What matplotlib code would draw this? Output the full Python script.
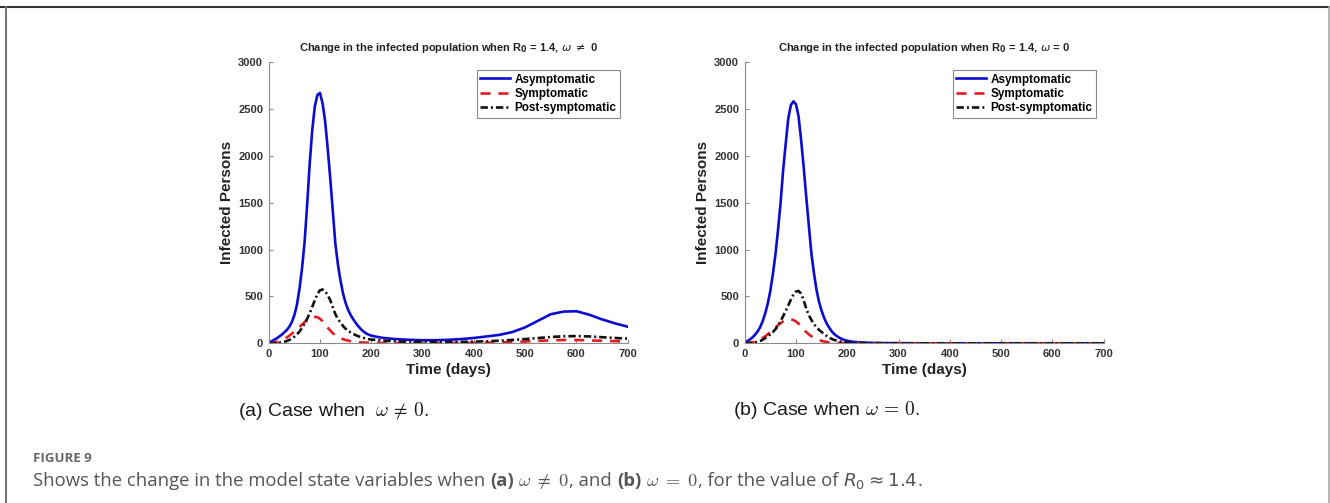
import numpy as np
import matplotlib.pyplot as plt
from matplotlib.lines import Line2D

plt.rcParams['font.family'] = ['Liberation Sans', 'DejaVu Sans']

# ---- data ----
# (a) omega != 0 : read every 5 days up to day 200, then coarser
days_a = list(range(0, 205, 5)) + [210, 220, 240, 260, 280, 300, 325, 350, 375, 400, 425, 450,
                                   475, 500, 525, 550, 575, 600, 625, 650, 675, 700]
asym_a = [10, 20, 35, 50, 70, 90, 115, 140, 175, 225, 300, 410, 580, 800, 1080, 1480, 1920, 2280,
          2530, 2650, 2670, 2560, 2370, 2080, 1760, 1410, 1060, 840, 670, 530, 430, 355, 300, 255,
          215, 180, 150, 125, 105, 92, 82,
          70, 60, 48, 41, 36, 33, 33, 37, 45, 57, 73, 90, 120, 170, 240, 310, 338, 342, 305, 255, 213, 177]
sym_a = [0, 2, 5, 11, 20, 31, 45, 62, 80, 102, 125, 150, 175, 200, 225, 248, 268, 279,
         282, 278, 262, 235, 200, 167, 135, 108, 85, 69, 55, 44, 35, 28, 22, 18,
         14, 12, 10, 8, 7, 6, 5,
         4, 3, 3, 2, 2, 2, 2, 3, 4, 5, 7, 10, 14, 19, 26, 31, 35, 35, 31, 27, 23, 19]
post_a = [0, 1, 2, 4, 6, 10, 15, 24, 35, 50, 70, 95, 125, 165, 210, 262, 320, 390,
          460, 525, 565, 574, 555, 515, 460, 385, 310, 260, 220, 185, 155, 133, 115, 100,
          86, 75, 66, 58, 50, 44, 40,
          35, 30, 24, 19, 16, 14, 13, 13, 15, 18, 22, 28, 36, 45, 56, 67, 75, 77, 73, 65, 57, 50]

# (b) omega = 0
days_b = list(range(0, 205, 5)) + [210, 220, 240, 260, 280, 300, 350, 400, 450, 500, 550, 600, 650, 700]
asym_b = [10, 22, 40, 62, 90, 125, 170, 235, 320, 425, 560, 740, 950, 1210, 1500, 1850, 2130, 2400,
          2540, 2580, 2550, 2420, 2170, 1880, 1560, 1260, 960, 750, 570, 440, 345, 270, 210, 165,
          125, 97, 75, 58, 45, 34, 26,
          17, 11, 5, 3, 2, 1, 0, 0, 0, 0, 0, 0, 0, 0]
sym_b = [0, 2, 5, 10, 18, 28, 40, 56, 75, 97, 120, 145, 170, 193, 215, 233, 248, 255,
         255, 248, 232, 210, 180, 150, 120, 96, 75, 59, 45, 35, 25, 19, 14, 11,
         8, 6, 4, 3, 3, 2, 2,
         1, 1, 0, 0, 0, 0, 0, 0, 0, 0, 0, 0, 0, 0]
post_b = [0, 1, 3, 6, 10, 17, 25, 38, 55, 73, 95, 120, 150, 190, 235, 290, 345, 405,
          465, 520, 553, 558, 530, 460, 370, 300, 250, 205, 170, 143, 120, 100, 78, 60,
          46, 35, 27, 20, 15, 11, 9,
          6, 4, 3, 1, 1, 0, 0, 0, 0, 0, 0, 0, 0, 0]

labels = ['Asymptomatic', 'Symptomatic', 'Post-symptomatic']
xticks = [0, 100, 200, 300, 400, 500, 600, 700]
yticks = [0, 500, 1000, 1500, 2000, 2500, 3000]

W, H = 1330, 503
fig = plt.figure(figsize=(W / 100, H / 100), dpi=100)


def panel(left_px, days, a, s, p, title):
    ax = fig.add_axes([left_px / W, 1 - 343.3 / H, 359 / W, 281.3 / H])
    ax.plot(days, a, color='#0c0cd0', lw=1.9, label=labels[0])
    ax.plot(days, s, color='#e51a22', lw=1.9, dashes=(3.8, 3.0), label=labels[1])
    ax.plot(days, p, color='#111111', lw=1.9, dashes=(2.8, 1.15, 0.75, 1.15), label=labels[2])
    ax.set_xlim(0, 700)
    ax.set_ylim(0, 3000)
    ax.set_xticks(xticks)
    ax.set_yticks(yticks)
    for sp in ['top', 'right']:
        ax.spines[sp].set_visible(False)
    for sp in ['left', 'bottom']:
        ax.spines[sp].set_color('#8a8a8a')
        ax.spines[sp].set_linewidth(0.8)
    ax.tick_params(direction='in', length=3, width=0.8, color='#8a8a8a',
                   labelcolor='#333333', labelsize=8, pad=4)
    for lbl in ax.get_xticklabels() + ax.get_yticklabels():
        lbl.set_fontweight('bold')
    ax.set_xlabel('Time (days)', fontsize=11, fontweight='bold', color='#222222', labelpad=3)
    ax.set_ylabel('Infected Persons', fontsize=11, fontweight='bold', color='#222222', labelpad=3)
    ax.set_title(title, fontsize=8, fontweight='bold', color='#222222', pad=8)
    leg = ax.legend(loc='upper right', bbox_to_anchor=(1 - 7.5 / 359, 1 - 8 / 281),
                    borderaxespad=0, prop={'weight': 'bold', 'size': 8.5},
                    handlelength=2.5, handletextpad=0.4, borderpad=0.3, labelspacing=0.2,
                    fancybox=False, edgecolor='#8a8a8a', framealpha=1)
    leg.get_frame().set_linewidth(0.8)
    return ax


panel(268.7, days_a, asym_a, sym_a, post_a,
      r'Change in the infected population when R$_{\mathbf{0}}$ = 1.4, $\omega$ $\neq$ 0')
panel(744.7, days_b, asym_b, sym_b, post_b,
      r'Change in the infected population when R$_{\mathbf{0}}$ = 1.4, $\omega$ = 0')

# sub-captions
fig.text(238 / W, 1 - 416 / H, r'(a) Case when  $\omega\,\neq\,0.$', fontsize=14,
         math_fontfamily='cm', va='baseline', color='#1a1a1a')
fig.text(733 / W, 1 - 415 / H, r'(b) Case when $\omega\,=\,0.$', fontsize=14,
         math_fontfamily='cm', va='baseline', color='#1a1a1a')

# figure caption
cap_font = ['Open Sans', 'DejaVu Sans']
fig.text(33 / W, 1 - 461.7 / H, 'FIGURE 9', fontsize=9.5, fontweight='bold',
         color='#666666', family=cap_font, va='baseline')

renderer = fig.canvas.get_renderer()
cap_size = 13.3
cap_color = '#555555'
parts = [
    ('Shows the change in the model state variables when', {}, 0),
    ('(a)', {'fontweight': 'bold'}, 1),
    (r'$\omega$ $\neq$ $0$', {'math_fontfamily': 'cm'}, 1),
    (', and', {}, 0),
    ('(b)', {'fontweight': 'bold'}, 1),
    (r'$\omega$ $=$ $0$', {'math_fontfamily': 'cm'}, 1),
    (', for the value of', {}, 0),
    (r'$R_0 \approx 1.4$', {'math_fontfamily': 'dejavusans'}, 1),
    ('.', {}, 0),
]
probe1 = fig.text(0, 0, 'n n', fontsize=cap_size, family=cap_font)
probe2 = fig.text(0, 0, 'nn', fontsize=cap_size, family=cap_font)
space_w = probe1.get_window_extent(renderer).width - probe2.get_window_extent(renderer).width
probe1.remove()
probe2.remove()

x = 33
for s, kw, gap in parts:
    x += gap * space_w
    t = fig.text(x / W, 1 - 486 / H, s, fontsize=cap_size, family=cap_font,
                 color=cap_color, va='baseline', **kw)
    x += t.get_window_extent(renderer).width

# page frame lines
fig.add_artist(Line2D([0, 1], [1 - 6.7 / H] * 2, color='#333333', lw=1.5))
fig.add_artist(Line2D([6 / W] * 2, [0, 1 - 6.7 / H], color='#777777', lw=1.5))
fig.add_artist(Line2D([1329 / W] * 2, [0, 1 - 6.7 / H], color='#aaaaaa', lw=1.2))

fig.savefig('out.png', dpi=100)
